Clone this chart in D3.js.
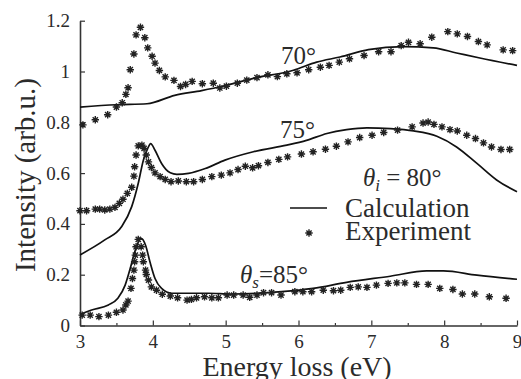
<!DOCTYPE html>
<html>
<head>
<meta charset="utf-8">
<script src="https://cdn.jsdelivr.net/npm/d3@7"></script>
<style>
  body { margin: 0; background: #fff; }
  svg text { fill: #2b2b2b; }
</style>
</head>
<body>
<div id="chart"></div>
<script>
// Energy loss (eV) vs intensity
const calc70 = [[3.0,0.86],[3.5,0.869],[3.92,0.873],[4.3,0.906],[4.67,0.925],[4.97,0.943],[5.38,0.973],[5.93,1.005],[6.25,1.037],[6.57,1.057],[6.96,1.086],[7.44,1.098],[7.85,1.093],[8.17,1.073],[8.49,1.053],[9.0,1.024]];
const exp70 = [[3.04,0.79],[3.21,0.81],[3.38,0.83],[3.50,0.86],[3.58,0.877],[3.63,0.91],[3.66,0.936],[3.69,1.007],[3.74,1.069],[3.77,1.144],[3.83,1.174],[3.89,1.133],[3.93,1.093],[3.99,1.06],[4.03,1.033],[4.09,1.004],[4.17,0.979],[4.29,0.965],[4.38,0.941],[4.45,0.949],[4.54,0.961],[4.68,0.952],[4.83,0.954],[4.92,0.935],[5.01,0.942],[5.16,0.954],[5.29,0.966],[5.43,0.976],[5.58,0.987],[5.71,0.98],[5.84,0.991],[5.98,0.995],[6.14,1.007],[6.30,1.017],[6.42,1.024],[6.56,1.037],[6.70,1.05],[6.90,1.063],[7.10,1.078],[7.27,1.078],[7.41,1.102],[7.51,1.115],[7.67,1.109],[7.83,1.135],[8.05,1.157],[8.18,1.148],[8.32,1.138],[8.47,1.118],[8.59,1.105],[8.81,1.085],[8.94,1.082]];

const calc75 = [[3.0,0.278],[3.34,0.337],[3.57,0.389],[3.71,0.468],[3.80,0.56],[3.87,0.651],[3.93,0.697],[3.97,0.716],[4.03,0.69],[4.12,0.638],[4.24,0.601],[4.33,0.595],[4.49,0.599],[4.72,0.618],[4.99,0.651],[5.38,0.684],[5.84,0.71],[6.11,0.729],[6.39,0.756],[6.66,0.771],[6.94,0.778],[7.26,0.775],[7.58,0.766],[7.90,0.745],[8.17,0.703],[8.45,0.638],[8.72,0.573],[9.0,0.527]];
const exp75 = [[3.0,0.452],[3.09,0.452],[3.21,0.458],[3.27,0.458],[3.34,0.455],[3.41,0.458],[3.48,0.465],[3.54,0.481],[3.59,0.497],[3.65,0.52],[3.71,0.544],[3.74,0.588],[3.75,0.625],[3.77,0.671],[3.80,0.707],[3.85,0.71],[3.88,0.697],[3.91,0.671],[3.94,0.644],[3.98,0.622],[4.03,0.601],[4.10,0.586],[4.17,0.575],[4.25,0.566],[4.35,0.569],[4.46,0.566],[4.56,0.566],[4.68,0.575],[4.81,0.586],[4.94,0.592],[5.06,0.601],[5.17,0.614],[5.27,0.627],[5.37,0.621],[5.45,0.629],[5.58,0.642],[5.73,0.654],[5.85,0.664],[6.04,0.675],[6.20,0.684],[6.37,0.694],[6.52,0.706],[6.68,0.723],[6.84,0.74],[7.01,0.749],[7.17,0.76],[7.36,0.769],[7.56,0.782],[7.71,0.797],[7.78,0.801],[7.86,0.792],[7.97,0.782],[8.08,0.771],[8.18,0.766],[8.31,0.749],[8.43,0.736],[8.54,0.719],[8.65,0.703],[8.78,0.693],[8.90,0.693]];

const calc85 = [[3.0,0.044],[3.16,0.061],[3.39,0.081],[3.52,0.107],[3.62,0.159],[3.69,0.225],[3.76,0.297],[3.84,0.343],[3.90,0.316],[3.96,0.251],[4.03,0.185],[4.12,0.146],[4.26,0.127],[4.49,0.127],[4.76,0.127],[5.08,0.124],[5.77,0.133],[6.20,0.146],[6.66,0.17],[7.26,0.194],[7.76,0.215],[7.99,0.215],[8.45,0.198],[9.0,0.182]];
const exp85 = [[3.03,0.041],[3.14,0.041],[3.26,0.035],[3.39,0.041],[3.50,0.052],[3.59,0.061],[3.63,0.081],[3.66,0.096],[3.70,0.146],[3.72,0.185],[3.74,0.218],[3.75,0.251],[3.76,0.277],[3.77,0.31],[3.80,0.339],[3.84,0.31],[3.86,0.277],[3.87,0.251],[3.90,0.218],[3.91,0.201],[3.94,0.179],[3.98,0.152],[4.05,0.139],[4.13,0.123],[4.24,0.116],[4.34,0.109],[4.47,0.1],[4.53,0.103],[4.60,0.109],[4.71,0.113],[4.81,0.109],[4.90,0.109],[5.02,0.12],[5.11,0.12],[5.24,0.12],[5.33,0.111],[5.43,0.12],[5.52,0.129],[5.63,0.129],[5.76,0.12],[5.95,0.133],[6.06,0.133],[6.18,0.133],[6.34,0.139],[6.48,0.137],[6.58,0.139],[6.71,0.15],[6.82,0.152],[6.94,0.15],[7.07,0.159],[7.23,0.166],[7.35,0.168],[7.46,0.168],[7.62,0.162],[7.78,0.162],[7.94,0.146],[8.12,0.142],[8.25,0.124],[8.42,0.124],[8.62,0.113],[8.85,0.107]];

const xTicks = [3, 4, 5, 6, 7, 8, 9];
const xMinorTicks = [3.5, 4.5, 5.5, 6.5, 7.5, 8.5];
const yTicks = [0, 0.2, 0.4, 0.6, 0.8, 1, 1.2];
const yTickLabels = ["0", "0.2", "0.4", "0.6", "0.8", "1", "1.2"];

const width = 521, height = 379;
const margin = { top: 20.7, right: 4, bottom: 53.5, left: 80 };
const serif = "'Liberation Serif', 'DejaVu Serif', serif";

const svg = d3.select("#chart").append("svg")
    .attr("width", width)
    .attr("height", height);

const x = d3.scaleLinear().domain([3, 9]).range([margin.left, width - margin.right]);
const y = d3.scaleLinear().domain([0, 1.2]).range([height - margin.bottom, margin.top]);

// axes, ticks point inward
svg.append("g")
    .attr("transform", `translate(0,${y(0)})`)
    .call(d3.axisBottom(x).tickValues(xTicks).tickFormat(d3.format("d"))
        .tickSizeInner(-5).tickSizeOuter(0).tickPadding(9));
svg.append("g")
    .attr("transform", `translate(0,${y(0)})`)
    .call(d3.axisBottom(x).tickValues(xMinorTicks).tickFormat("")
        .tickSizeInner(-2.5).tickSizeOuter(0))
    .select(".domain").remove();
svg.append("g")
    .attr("transform", `translate(${x(3)},0)`)
    .call(d3.axisLeft(y).tickValues(yTicks).tickFormat((d, i) => yTickLabels[i])
        .tickSizeInner(-5).tickSizeOuter(0).tickPadding(10));

svg.selectAll("g").attr("font-family", serif);
svg.selectAll(".domain").attr("stroke", "#333").attr("stroke-width", 1.6);
svg.selectAll(".tick line").attr("stroke", "#333").attr("stroke-width", 1.2);
svg.selectAll(".tick text")
    .attr("font-size", 19)
    .attr("fill", "#2b2b2b");

// calculated curves
const line = d3.line()
    .x(d => x(d[0]))
    .y(d => y(d[1]))
    .curve(d3.curveMonotoneX);

[calc70, calc75, calc85].forEach(s => {
    svg.append("path")
        .datum(s)
        .attr("d", line)
        .attr("fill", "none")
        .attr("stroke", "#111")
        .attr("stroke-width", 1.7);
});

// experiment asterisks
function asterisk(r) {
    let p = "";
    for (let k = 0; k < 4; k++) {
        const a = k * Math.PI / 4 + Math.PI / 2;
        const dx = r * Math.cos(a), dy = r * Math.sin(a);
        p += `M${-dx},${-dy}L${dx},${dy}`;
    }
    return p;
}
const star = asterisk(3.7);

[exp70, exp75, exp85].forEach(s => {
    svg.append("g")
        .selectAll("path")
        .data(s)
        .enter()
        .append("path")
        .attr("transform", d => `translate(${x(d[0])},${y(d[1])})`)
        .attr("d", star)
        .attr("fill", "none")
        .attr("stroke", "#222")
        .attr("stroke-width", 1.4);
});

function label(xp, yp, size) {
    return svg.append("text")
        .attr("x", xp).attr("y", yp)
        .attr("font-family", serif)
        .attr("font-size", size);
}

// curve annotations
label(281, 64, 25).text("70°");
label(280, 138, 25).text("75°");

const ti = label(363, 186, 25);
ti.append("tspan").attr("font-style", "italic").text("θ");
ti.append("tspan").attr("font-style", "italic").attr("font-size", 17).attr("dy", 5).text("i");
ti.append("tspan").attr("dy", -5).text(" = 80°");

const ts = label(240, 283, 25);
ts.append("tspan").attr("font-style", "italic").text("θ");
ts.append("tspan").attr("font-style", "italic").attr("font-size", 17).attr("dy", 5).text("s");
ts.append("tspan").attr("dy", -5).text("=85°");

// legend
svg.append("line")
    .attr("x1", 290).attr("x2", 327)
    .attr("y1", 208).attr("y2", 208)
    .attr("stroke", "#111").attr("stroke-width", 1.7);
svg.append("path")
    .attr("transform", "translate(309,233)")
    .attr("d", star)
    .attr("fill", "none").attr("stroke", "#222").attr("stroke-width", 1.4);
label(345, 217, 27).text("Calculation");
label(345, 240, 27).text("Experiment");

// axis titles
label(297, 376, 28)
    .attr("text-anchor", "middle")
    .text("Energy loss (eV)");
svg.append("text")
    .attr("transform", "translate(35,175) rotate(-90)")
    .attr("text-anchor", "middle")
    .attr("font-family", serif)
    .attr("font-size", 29)
    .text("Intensity (arb.u.)");
</script>
</body>
</html>
